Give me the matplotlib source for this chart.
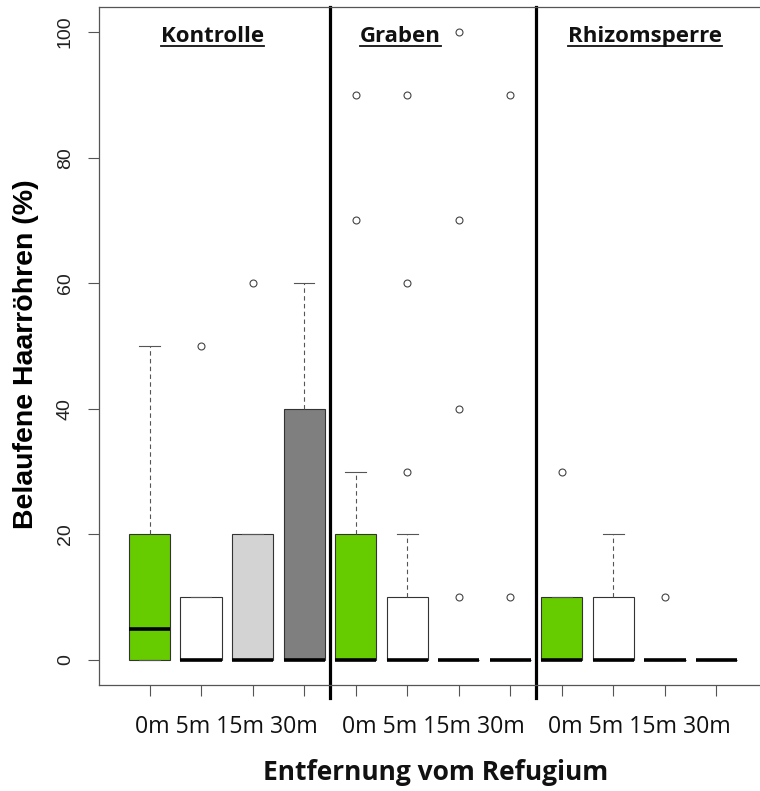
import matplotlib.pyplot as plt
from matplotlib.lines import Line2D

# box statistics (percent)
groups = ['Kontrolle', 'Graben', 'Rhizomsperre']
distances = ['0m', '5m', '15m', '30m']
q1 = [0, 0, 0, 0, 0, 0, 0, 0, 0, 0, 0, 0]
med = [5, 0, 0, 0, 0, 0, 0, 0, 0, 0, 0, 0]
q3 = [20, 10, 20, 40, 20, 10, 0, 0, 10, 10, 0, 0]
whislo = [0, 0, 0, 0, 0, 0, 0, 0, 0, 0, 0, 0]
whishi = [50, 10, 20, 60, 30, 20, 0, 0, 10, 20, 0, 0]
fliers = [[], [50], [60], [],
          [70, 90], [30, 60, 90], [10, 40, 70, 100], [10, 90],
          [30], [], [10], []]
colors = ['#66CC00', 'white', '#D3D3D3', '#7F7F7F'] * 3

stats = []
for i in range(len(q1)):
    stats.append({'q1': q1[i], 'med': med[i], 'q3': q3[i],
                  'whislo': whislo[i], 'whishi': whishi[i], 'fliers': fliers[i]})

fig = plt.figure(figsize=(7.6, 7.91), dpi=100)
ax = fig.add_axes([99 / 760, 106 / 791, 668 / 760, 678 / 791])

pos = list(range(1, len(stats) + 1))
bp = ax.bxp(stats, positions=pos, widths=0.8, capwidths=0.4, patch_artist=True,
            boxprops=dict(edgecolor='#333333', linewidth=0.8),
            medianprops=dict(color='black', linewidth=2.6, solid_capstyle='butt'),
            whiskerprops=dict(color='#555555', linewidth=0.8, linestyle=(0, (4, 3))),
            capprops=dict(color='#555555', linewidth=0.8),
            flierprops=dict(marker='o', markersize=5, markerfacecolor='none',
                            markeredgecolor='#444444', markeredgewidth=0.8))
for patch, c in zip(bp['boxes'], colors):
    patch.set_facecolor(c)

ax.set_xlim(0.02, 12.98)
ax.set_ylim(-4, 104)
ax.set_yticks([0, 20, 40, 60, 80, 100])
ax.set_yticklabels(['0', '20', '40', '60', '80', '100'], rotation=90, va='center',
                   family='Liberation Sans', fontsize=14, color='#222222')
ax.set_xticks(pos)
ax.set_xticklabels([''] * len(pos))
ax.tick_params(axis='both', direction='out', length=8, width=0.8, color='#555555')
ax.tick_params(axis='y', pad=10)
for s in ax.spines.values():
    s.set_color('#555555')
    s.set_linewidth(0.9)

# group separators
for xs in [4.5, 8.5]:
    ax.axvline(xs, ymin=-0.019, ymax=1, color='black', linewidth=2.3, clip_on=False)

# distance labels under each group
trans = ax.get_xaxis_transform()
for g in range(3):
    xc = 4 * g + 2.5
    ax.text(xc, -0.062, ' '.join(distances), transform=trans, ha='center', va='center',
            family='Open Sans', fontsize=16.7, color='#111111')

# group titles (bold, underlined), placed by hand as in the original
title_x = [2.22, 5.87, 10.61]
titles = []
for name, xc in zip(groups, title_x):
    t = ax.text(xc, 0.956, name, transform=trans, ha='center', va='center',
                family='Open Sans', fontweight='bold', fontsize=16, color='#111111')
    titles.append(t)

ax.set_ylabel('Belaufene Haarröhren (%)', family='Liberation Sans', fontweight='bold',
              fontsize=20.5)
ax.yaxis.set_label_coords(-0.09, 0.488)
fig.text(436 / 760, 1 - 773 / 791, 'Entfernung vom Refugium', ha='center', va='center',
         family='Open Sans', fontweight='bold', fontsize=19, color='#111111')

fig.canvas.draw()
r = fig.canvas.get_renderer()
for t in titles:
    bb = t.get_window_extent(renderer=r)
    yl = bb.y0 + 1
    fig.add_artist(Line2D([bb.x0 / 760, bb.x1 / 760], [yl / 791, yl / 791],
                          color='#111111', linewidth=1.3))

fig.savefig('out.png', dpi=100)
